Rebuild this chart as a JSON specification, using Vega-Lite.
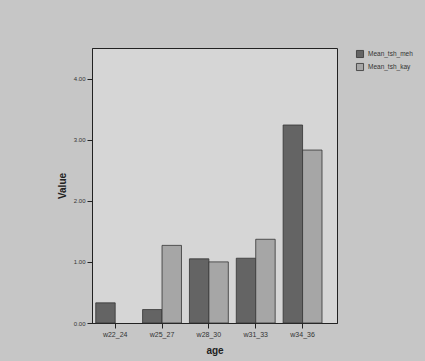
{
  "$schema": "https://vega.github.io/schema/vega-lite/v6.json",
  "autosize": "none",
  "width": 245,
  "height": 275,
  "padding": {"left": 92, "top": 48, "right": 88, "bottom": 38},
  "background": "#c6c6c6",
  "data": {"values": [
    {"age": "w22_24", "series": "Mean_tsh_meh", "value": 0.33},
    {"age": "w25_27", "series": "Mean_tsh_meh", "value": 0.22},
    {"age": "w25_27", "series": "Mean_tsh_kay", "value": 1.27},
    {"age": "w28_30", "series": "Mean_tsh_meh", "value": 1.05},
    {"age": "w28_30", "series": "Mean_tsh_kay", "value": 1.0},
    {"age": "w31_33", "series": "Mean_tsh_meh", "value": 1.06},
    {"age": "w31_33", "series": "Mean_tsh_kay", "value": 1.37},
    {"age": "w34_36", "series": "Mean_tsh_meh", "value": 3.24},
    {"age": "w34_36", "series": "Mean_tsh_kay", "value": 2.83}
  ]},
  "mark": {"type": "bar", "stroke": "#333333", "strokeWidth": 0.8},
  "encoding": {
    "x": {"field": "age", "type": "nominal", "sort": null,
      "scale": {"paddingInner": 0.17, "paddingOuter": 0.2, "align": 0.2},
      "axis": {"title": "age", "labelAngle": 0, "labelFontSize": 7, "titleFontSize": 10, "titleFontWeight": "bold", "labelColor": "#333", "titleColor": "#222", "domainColor": "#222", "tickColor": "#222", "titlePadding": 8}},
    "xOffset": {"field": "series", "type": "nominal", "sort": ["Mean_tsh_meh", "Mean_tsh_kay"], "scale": {"domain": ["Mean_tsh_meh", "Mean_tsh_kay"]}},
    "y": {"field": "value", "type": "quantitative",
      "scale": {"domain": [0, 4.5], "nice": false},
      "axis": {"title": "Value", "format": ".2f", "values": [0, 1, 2, 3, 4], "grid": false, "labelFontSize": 6, "titleFontSize": 10, "titleFontWeight": "bold", "labelColor": "#333", "titleColor": "#222", "domainColor": "#222", "tickColor": "#222", "titlePadding": 6}},
    "color": {"field": "series", "type": "nominal", "sort": ["Mean_tsh_meh", "Mean_tsh_kay"],
      "scale": {"domain": ["Mean_tsh_meh", "Mean_tsh_kay"], "range": ["#646464", "#a6a6a6"]},
      "legend": {"title": null, "orient": "none", "legendX": 264, "legendY": 2, "labelFontSize": 6.5, "symbolType": "square", "symbolSize": 50, "symbolStrokeColor": "#333", "symbolStrokeWidth": 0.8, "rowPadding": 1, "labelColor": "#333"}}
  },
  "config": {
    "view": {"fill": "#d6d6d6", "stroke": "#222", "strokeWidth": 1},
    "font": "Liberation Sans"
  }
}
